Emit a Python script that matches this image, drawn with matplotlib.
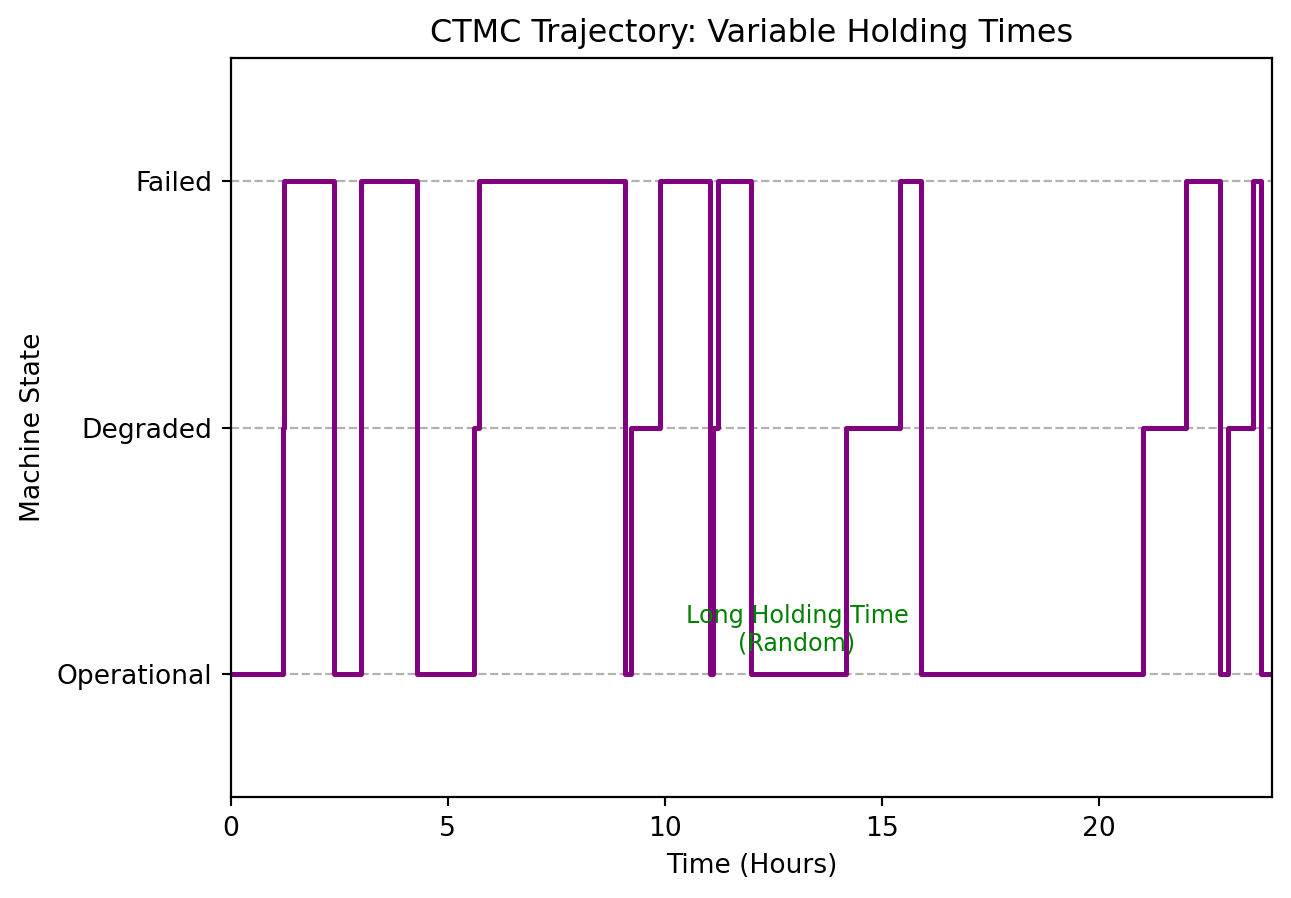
import matplotlib
matplotlib.use("Agg")
import matplotlib.pyplot as plt

# Transition times (hours) and state entered at each time
times = [0, 1.21, 1.23, 2.38, 3.00, 4.28, 5.60, 5.72, 9.08, 9.22, 9.90, 11.04,
         11.12, 11.22, 11.98, 14.18, 15.42, 15.90, 21.02, 22.02, 22.80, 22.98,
         23.57, 23.74, 24.0]
states = [0, 1, 2, 0, 2, 0, 1, 2, 0, 1, 2, 0,
          1, 2, 0, 1, 2, 0, 1, 2, 0, 1,
          2, 0, 0]
state_labels = ["Operational", "Degraded", "Failed"]
x_ticks = [0, 5, 10, 15, 20]

s = 0.956
plt.rcParams["font.size"] = 10 * s

fig = plt.figure(figsize=(6.455, 4.49), dpi=200)
ax = fig.add_axes([231/1291, 1-797/898, (1272-231)/1291, (797-58)/898])

ax.step(times, states, where="post", color="purple", linewidth=1.8)

ax.set_yticks([0, 1, 2])
ax.set_yticklabels(state_labels)
ax.set_xticks(x_ticks)
ax.set_xlim(0, 24)
ax.set_ylim(-0.5, 2.5)
ax.grid(axis="y", linestyle="--", color="gray", alpha=0.6, linewidth=0.8)
ax.set_axisbelow(True)
ax.tick_params(length=3.5 * s, width=0.8 * s)

ax.set_title("CTMC Trajectory: Variable Holding Times", fontsize=12 * s, pad=6 * s)
ax.set_xlabel("Time (Hours)", labelpad=4 * s)
ax.set_ylabel("Machine State", labelpad=4 * s)

ax.text(13.05, 0.18, "Long Holding Time\n(Random)", color="green",
        fontsize=9 * s, ha="center", va="center")

fig.savefig("out.png", dpi=200)
